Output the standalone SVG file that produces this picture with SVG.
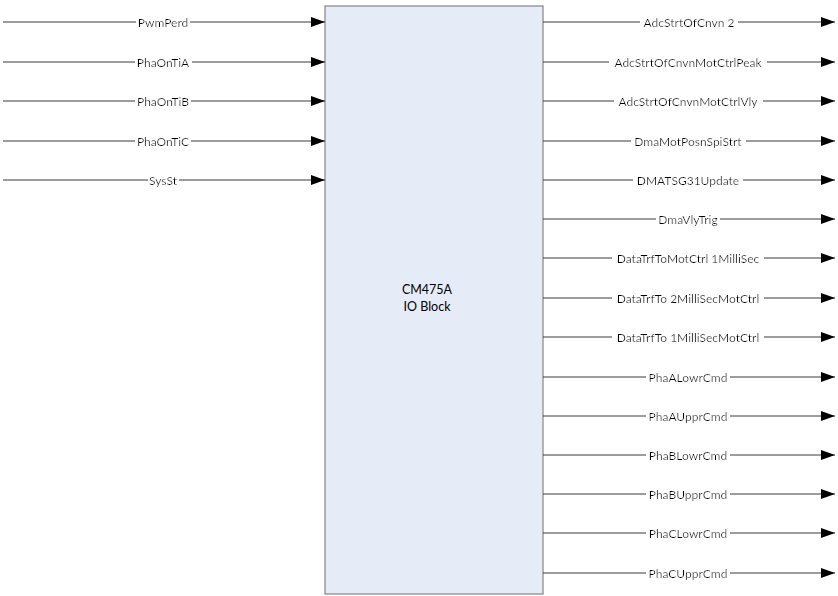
<svg xmlns="http://www.w3.org/2000/svg" width="838" height="596" viewBox="0 0 838 596">
<style>
.ln{stroke:#3a3a3a;stroke-width:1;fill:none;marker-end:url(#ah)}
.lb{font-family:Lato,"Liberation Sans",sans-serif;font-size:12px;fill:#000;text-anchor:middle;dominant-baseline:central;filter:url(#bg)}
.blk{fill:#e6ecf7;stroke:#858585;stroke-width:1.2}
.bt{font-family:Lato,"Liberation Sans",sans-serif;font-size:12.5px;fill:#000;text-anchor:middle}
</style>
<defs>
<marker id="ah" markerUnits="userSpaceOnUse" markerWidth="14" markerHeight="10" refX="14" refY="5" orient="auto">
<path d="M0,0 L14,5 L0,10 z" fill="#000"/>
</marker>
<filter id="bg" x="-0.03" y="0" width="1.06" height="1">
<feFlood flood-color="#fff"/>
<feMerge><feMergeNode/><feMergeNode in="SourceGraphic"/></feMerge>
</filter>
</defs>
<g id="block">
<rect class="blk" x="325" y="6" width="218" height="588"/>
<text class="bt" x="427" y="294">CM475A</text>
<text class="bt" x="427" y="311">IO Block</text>
</g>
<g id="connectors">
<line class="ln" x1="3" y1="22" x2="325" y2="22"/>
<line class="ln" x1="3" y1="62" x2="325" y2="62"/>
<line class="ln" x1="3" y1="101" x2="325" y2="101"/>
<line class="ln" x1="3" y1="141" x2="325" y2="141"/>
<line class="ln" x1="3" y1="180" x2="325" y2="180"/>
<line class="ln" x1="543" y1="22" x2="835" y2="22"/>
<line class="ln" x1="543" y1="62" x2="835" y2="62"/>
<line class="ln" x1="543" y1="101" x2="835" y2="101"/>
<line class="ln" x1="543" y1="141" x2="835" y2="141"/>
<line class="ln" x1="543" y1="180" x2="835" y2="180"/>
<line class="ln" x1="543" y1="219" x2="835" y2="219"/>
<line class="ln" x1="543" y1="258" x2="835" y2="258"/>
<line class="ln" x1="543" y1="298" x2="835" y2="298"/>
<line class="ln" x1="543" y1="337" x2="835" y2="337"/>
<line class="ln" x1="543" y1="377" x2="835" y2="377"/>
<line class="ln" x1="543" y1="416" x2="835" y2="416"/>
<line class="ln" x1="543" y1="455" x2="835" y2="455"/>
<line class="ln" x1="543" y1="494" x2="835" y2="494"/>
<line class="ln" x1="543" y1="533" x2="835" y2="533"/>
<line class="ln" x1="543" y1="573" x2="835" y2="573"/>
</g>
<g id="labels">
<text class="lb" x="163" y="22">PwmPerd</text>
<text class="lb" x="163" y="62">PhaOnTiA</text>
<text class="lb" x="163" y="101">PhaOnTiB</text>
<text class="lb" x="163" y="141">PhaOnTiC</text>
<text class="lb" x="163" y="180">SysSt</text>
<text class="lb" x="689" y="22">AdcStrtOfCnvn 2</text>
<text class="lb" x="688" y="62">AdcStrtOfCnvnMotCtrlPeak</text>
<text class="lb" x="688" y="101">AdcStrtOfCnvnMotCtrlVly</text>
<text class="lb" x="688" y="141">DmaMotPosnSpiStrt</text>
<text class="lb" x="688" y="180">DMATSG31Update</text>
<text class="lb" x="688" y="219">DmaVlyTrig</text>
<text class="lb" x="688" y="258">DataTrfToMotCtrl 1MilliSec</text>
<text class="lb" x="688" y="298">DataTrfTo 2MilliSecMotCtrl</text>
<text class="lb" x="688" y="337">DataTrfTo 1MilliSecMotCtrl</text>
<text class="lb" x="688" y="377">PhaALowrCmd</text>
<text class="lb" x="688" y="416">PhaAUpprCmd</text>
<text class="lb" x="688" y="455">PhaBLowrCmd</text>
<text class="lb" x="688" y="494">PhaBUpprCmd</text>
<text class="lb" x="688" y="533">PhaCLowrCmd</text>
<text class="lb" x="688" y="573">PhaCUpprCmd</text>
</g>
</svg>
